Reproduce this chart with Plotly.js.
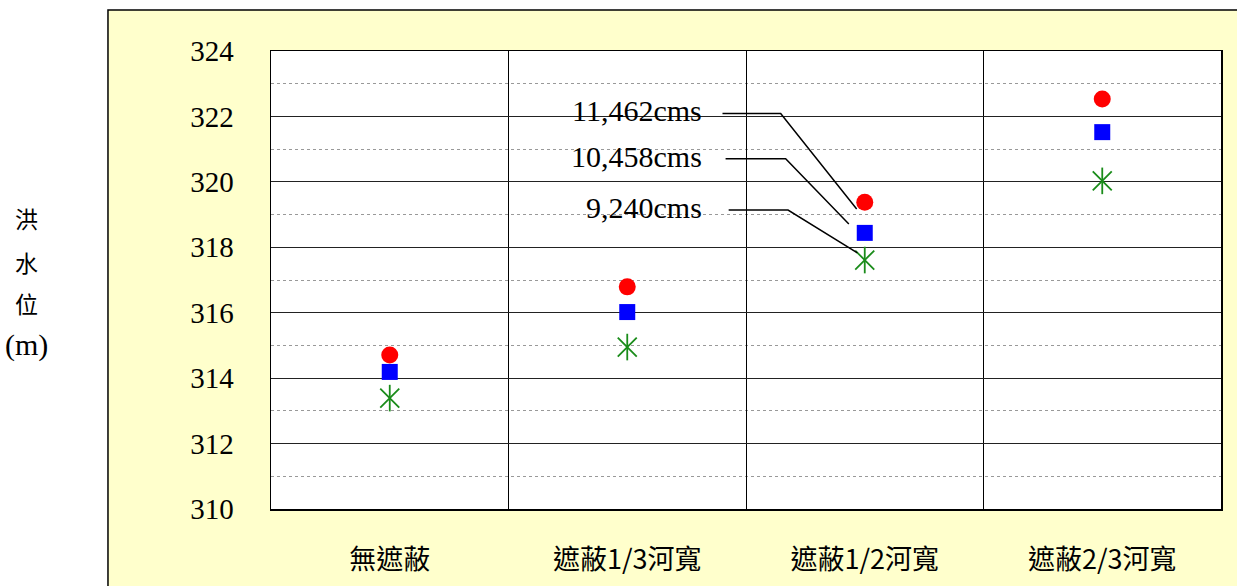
<!DOCTYPE html>
<html>
<head>
<meta charset="utf-8">
<script src="https://cdn.plot.ly/plotly-3.0.1.min.js"></script>
<style>html,body{margin:0;padding:0;background:#fff;}</style>
</head>
<body>
<div id="chart" style="width:1237px;height:586px;"></div>
<script>
// ---- data ----
const categories = ["無遮蔽", "遮蔽1/3河寬", "遮蔽1/2河寬", "遮蔽2/3河寬"];
const seriesNames = ["11,462cms", "10,458cms", "9,240cms"];
const q11462 = [314.71, 316.79, 319.38, 322.53];
const q10458 = [314.19, 316.02, 318.44, 321.52];
const q9240  = [313.39, 314.95, 317.61, 320.03];
const yTickVals = [310, 312, 314, 316, 318, 320, 322, 324];
const yTitleParts = ["洪", "水", "位", "(m)"];

const SERIF = '"Liberation Serif", "Times New Roman", serif';
const CJK = '"Noto Sans CJK TC", sans-serif';

// ---- traces ----
const traces = [
  {type: 'scatter', mode: 'markers', name: seriesNames[0], x: categories, y: q11462,
   marker: {symbol: 'circle', size: 17, color: '#ff0000', line: {width: 0}}, hoverinfo: 'x+y'},
  {type: 'scatter', mode: 'markers', name: seriesNames[1], x: categories, y: q10458,
   marker: {symbol: 'square', size: 16, color: '#0000ff', line: {width: 0}}, hoverinfo: 'x+y'},
  {type: 'scatter', mode: 'markers', name: seriesNames[2], x: categories, y: q9240,
   marker: {symbol: 'x-thin-open', size: 19, color: '#1a8c1a', line: {width: 1.8, color: '#1a8c1a'}}, hoverinfo: 'x+y'},
  {type: 'scatter', mode: 'markers', name: seriesNames[2], x: categories, y: q9240, showlegend: false,
   marker: {symbol: 'line-ns-open', size: 19, color: '#1a8c1a', line: {width: 1.8, color: '#1a8c1a'}}, hoverinfo: 'skip'}
];

// ---- callouts (labels pointing at the 3rd category) ----
const target = 2; // index of 遮蔽1/2河寬
const seriesVals = [q11462, q10458, q9240];
const labelY = [322.17, 320.79, 319.22];
const lineStartX = [1.401, 1.414, 1.427];
const bendX = [1.646, 1.667, 1.677];
const endDX = [-0.034, -0.067, -0.031];
const endDY = [-0.21, 0.27, 0.22];

const shapes = [
  {type: 'rect', xref: 'paper', yref: 'paper', x0: -0.1716, x1: 1.2, y0: -0.3, y1: 1.0895,
   fillcolor: '#ffffcc', line: {color: '#000', width: 1.5}, layer: 'below'},
  {type: 'rect', xref: 'paper', yref: 'paper', x0: 0, x1: 1, y0: 0, y1: 1,
   fillcolor: '#ffffff', line: {width: 0}, layer: 'below'}
];
const annotations = [];
seriesNames.forEach((nm, i) => {
  const ex = target + endDX[i];
  const ey = seriesVals[i][target] + endDY[i];
  const hy = labelY[i] - 0.08;
  shapes.push({type: 'path', xref: 'x', yref: 'y',
    path: `M${lineStartX[i]},${hy} L${bendX[i]},${hy} L${ex},${ey}`,
    line: {color: '#000', width: 1.5}});
  annotations.push({xref: 'x', yref: 'y', x: 1.322, y: labelY[i], text: nm, showarrow: false,
    xanchor: 'right', yanchor: 'middle',
    font: {family: SERIF, size: 30, color: '#000'}});
});
const yTitleY = [0.635, 0.539, 0.450, 0.358];
yTitleParts.forEach((t, i) => {
  annotations.push({xref: 'paper', yref: 'paper', x: -0.2578, y: yTitleY[i], text: t, showarrow: false,
    xanchor: 'center', yanchor: 'middle',
    font: {family: i === 3 ? SERIF : CJK, size: i === 3 ? 30 : 23, color: '#000'}});
});

const layout = {
  width: 1237, height: 586,
  margin: {l: 271, r: 16, t: 51, b: 77},
  paper_bgcolor: '#ffffff',
  plot_bgcolor: 'rgba(0,0,0,0)',
  showlegend: false,
  xaxis: {
    type: 'category', tickson: 'boundaries', range: [-0.5, 3.5],
    showgrid: true, gridcolor: '#000', gridwidth: 1,
    ticks: '', showline: true, mirror: true, linecolor: '#000', linewidth: 1.5,
    ticklabelstandoff: 26,
    tickfont: {family: CJK, size: 27, color: '#000'},
    zeroline: false, fixedrange: true
  },
  yaxis: {
    range: [310, 324], tickmode: 'array', tickvals: yTickVals,
    showgrid: true, gridcolor: '#222', gridwidth: 1,
    minor: {dtick: 1, tick0: 310, showgrid: true, gridcolor: '#999', griddash: 'dot', gridwidth: 1, ticks: ''},
    ticks: '', showline: true, mirror: true, linecolor: '#000', linewidth: 1.5,
    ticklabelstandoff: 30,
    tickfont: {family: SERIF, size: 29, color: '#000'},
    zeroline: false, fixedrange: true
  },
  shapes: shapes,
  annotations: annotations
};

Plotly.newPlot('chart', traces, layout, {displayModeBar: false, staticPlot: true});
</script>
</body>
</html>
